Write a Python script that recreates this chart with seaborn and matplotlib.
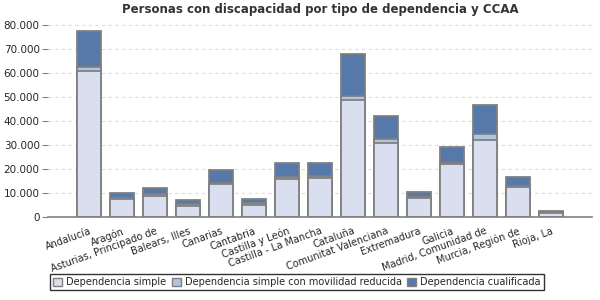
import pandas as pd
import numpy as np
import matplotlib
matplotlib.use("Agg")
import matplotlib.pyplot as plt
import seaborn as sns
from matplotlib.patches import Patch
from matplotlib.ticker import FuncFormatter

# Data
ccaa = [
    "Andalucía", "Aragón", "Asturias, Principado de", "Balears, Illes",
    "Canarias", "Cantabria", "Castilla y León", "Castilla - La Mancha",
    "Cataluña", "Comunitat Valenciana", "Extremadura", "Galicia",
    "Madrid, Comunidad de", "Murcia, Región de", "Rioja, La",
]
simple = [60700, 7500, 8900, 4700, 13500, 5100, 15600, 16000,
          48600, 30700, 7800, 22000, 32000, 12400, 1800]
movilidad = [1700, 500, 550, 600, 700, 550, 1000, 1200,
             1950, 1650, 400, 600, 2500, 650, 150]
cualificada = [15200, 2000, 2500, 1650, 5300, 1700, 5800, 5200,
               17200, 9850, 2100, 6400, 12300, 3500, 400]

series_names = ["Dependencia simple", "Dependencia simple con movilidad reducida",
                "Dependencia cualificada"]
colors = ["#D9DFEF", "#AEC4E2", "#5679A9"]

df = pd.DataFrame({"ccaa": ccaa, "simple": simple,
                   "movilidad": movilidad, "cualificada": cualificada})
df["s1"] = df["simple"]
df["s2"] = df["simple"] + df["movilidad"]
df["s3"] = df["s2"] + df["cualificada"]

sns.set_style("white")
plt.rcParams["font.family"] = ["DejaVu Sans"]

fig = plt.figure(figsize=(6, 3), dpi=100)
ax = fig.add_axes([0.08, 0.277, 0.907, 0.656])

# Stack by overlaying cumulative totals
for col, c in zip(["s3", "s2", "s1"], colors[::-1]):
    sns.barplot(data=df, x="ccaa", y=col, color=c, width=0.73,
                edgecolor="#808080", linewidth=1.3, ax=ax, saturation=1)

ax.set_xlim(-1.25, len(ccaa) - 1 + 1.25)
ax.set_ylim(0, 82000)
ax.set_yticks(np.arange(0, 80001, 10000))
ax.yaxis.set_major_formatter(FuncFormatter(lambda v, p: f"{int(v):,}".replace(",", ".")))
ax.yaxis.grid(True, linestyle=(0, (3, 3)), color="#DDDDDD", linewidth=0.8)
ax.set_axisbelow(True)
ax.set_xlabel("")
ax.set_ylabel("")

for s in ["top", "right", "left"]:
    ax.spines[s].set_visible(False)
ax.spines["bottom"].set_color("#808080")
ax.spines["bottom"].set_linewidth(1.2)

ax.tick_params(axis="y", which="both", left=True, length=4, color="#808080",
               labelsize=7.5, pad=2)
ax.tick_params(axis="x", bottom=False, labelsize=7, pad=3)
for lbl in ax.get_xticklabels():
    lbl.set_rotation(20)
    lbl.set_ha("right")
    lbl.set_rotation_mode("anchor")

ax.set_title("Personas con discapacidad por tipo de dependencia y CCAA",
             fontsize=8.5, fontweight="bold", color="#333333", pad=5)

handles = [Patch(facecolor=c, edgecolor="#808080", label=n)
           for c, n in zip(colors, series_names)]
leg = fig.legend(handles=handles, loc="center", bbox_to_anchor=(0.495, 0.06),
                 ncol=3, fontsize=7, frameon=True, fancybox=False,
                 handlelength=0.9, handleheight=0.9, handletextpad=0.4,
                 columnspacing=0.6, borderpad=0.35)
leg.get_frame().set_edgecolor("black")
leg.get_frame().set_linewidth(1)

fig.savefig("out.png", dpi=100)
